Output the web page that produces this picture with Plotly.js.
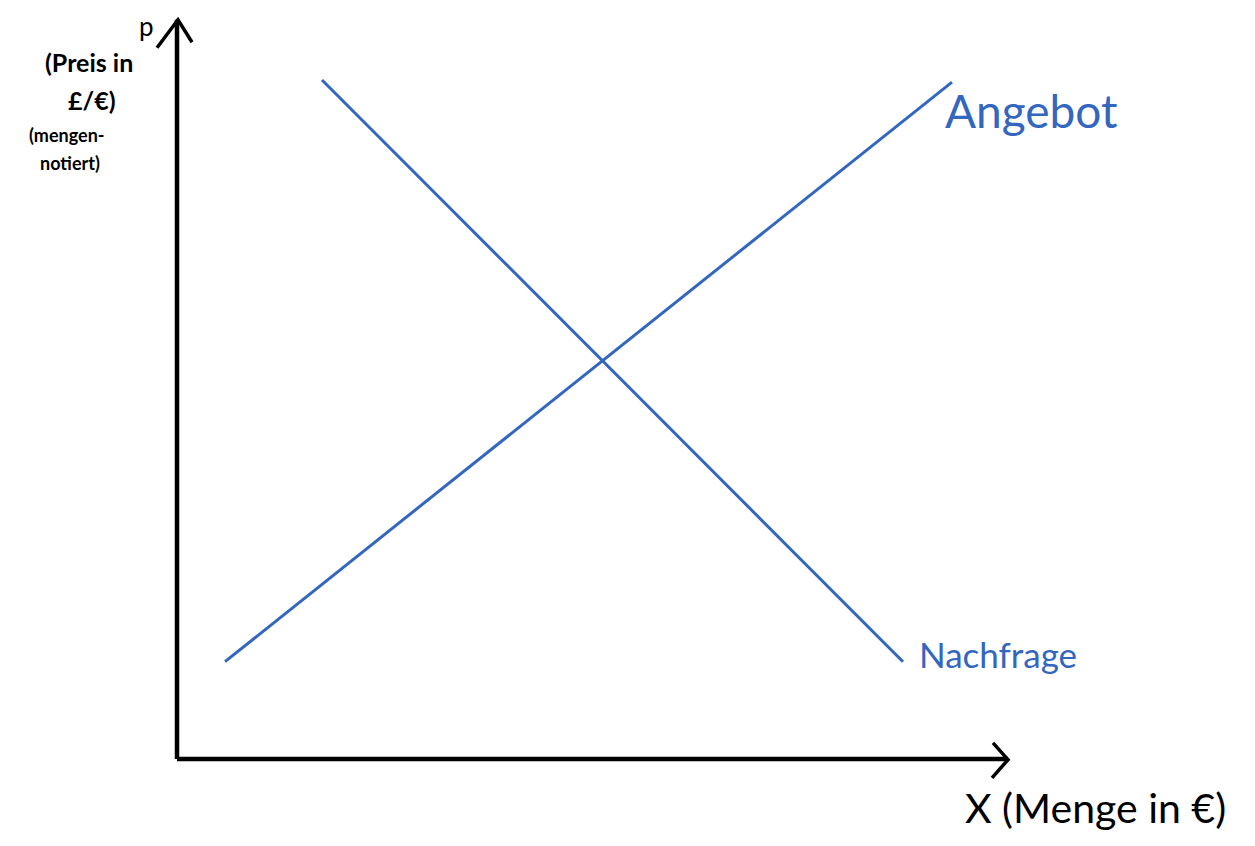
<!DOCTYPE html>
<html>
<head>
<meta charset="utf-8">
<script src="https://cdn.plot.ly/plotly-3.0.1.min.js"></script>
<style>
  html, body { margin: 0; padding: 0; background: #fff; }
  #plot { width: 1255px; height: 846px; }
</style>
</head>
<body>
<div id="plot"></div>
<script>
// curves (x = Menge, y = Preis)
const angebotX = [0.48, 7.75];
const angebotY = [1.39, 9.67];
const nachfrageX = [1.45, 7.26];
const nachfrageY = [9.70, 1.39];

// axes drawn by hand, with open arrowheads
const xAxisX = [0, 8.31];
const xAxisY = [0, 0];
const yAxisX = [0, 0];
const yAxisY = [0, 10.56];
const xArrowX = [8.16, 8.31, 8.15];
const xArrowY = [0.23, -0.01, -0.27];
const yArrowX = [-0.20, 0.01, 0.15];
const yArrowY = [10.16, 10.56, 10.24];

const blue = "#3366bf";
const hand = "Lato, 'Open Sans', sans-serif";

const line = (x, y, color, width) => ({
    type: "scatter",
    mode: "lines",
    x: x,
    y: y,
    line: { color: color, width: width },
    hoverinfo: "skip",
    showlegend: false
});

const traces = [
    line(xAxisX, xAxisY, "black", 4.5),
    line(yAxisX, yAxisY, "black", 4.5),
    line(xArrowX, xArrowY, "black", 3.5),
    line(yArrowX, yArrowY, "black", 3.5),
    line(angebotX, angebotY, blue, 3),
    line(nachfrageX, nachfrageY, blue, 3)
];

const label = (text, x, y, size, color, anchor, weight) => ({
    text: text,
    x: x,
    y: y,
    xref: "x",
    yref: "y",
    showarrow: false,
    xanchor: anchor || "center",
    yanchor: "middle",
    font: { family: hand, size: size, color: color, weight: weight || "normal" }
});

const annotations = [
    label("Angebot", 7.66, 9.27, 46, blue, "left"),
    label("Nachfrage", 7.40, 1.50, 35, blue, "left"),
    label("X (Menge in €)", 7.86, -0.70, 41, "black", "left"),
    label("p", -0.31, 10.47, 26, "black"),
    label("(Preis in", -0.88, 9.96, 25, "black", "center", "bold"),
    label("£/€)", -0.85, 9.41, 25, "black", "center", "bold"),
    label("(mengen-", -1.10, 8.92, 18, "black", "center", "bold"),
    label("notiert)", -1.07, 8.52, 18, "black", "center", "bold")
];

Plotly.newPlot("plot", traces, {
    width: 1255,
    height: 846,
    margin: { l: 0, r: 0, t: 0, b: 0 },
    paper_bgcolor: "white",
    plot_bgcolor: "white",
    xaxis: { range: [-1.77, 10.78], visible: false, fixedrange: true },
    yaxis: { range: [-1.243, 10.843], visible: false, fixedrange: true },
    annotations: annotations,
    showlegend: false
}, { displayModeBar: false, staticPlot: true });
</script>
</body>
</html>
